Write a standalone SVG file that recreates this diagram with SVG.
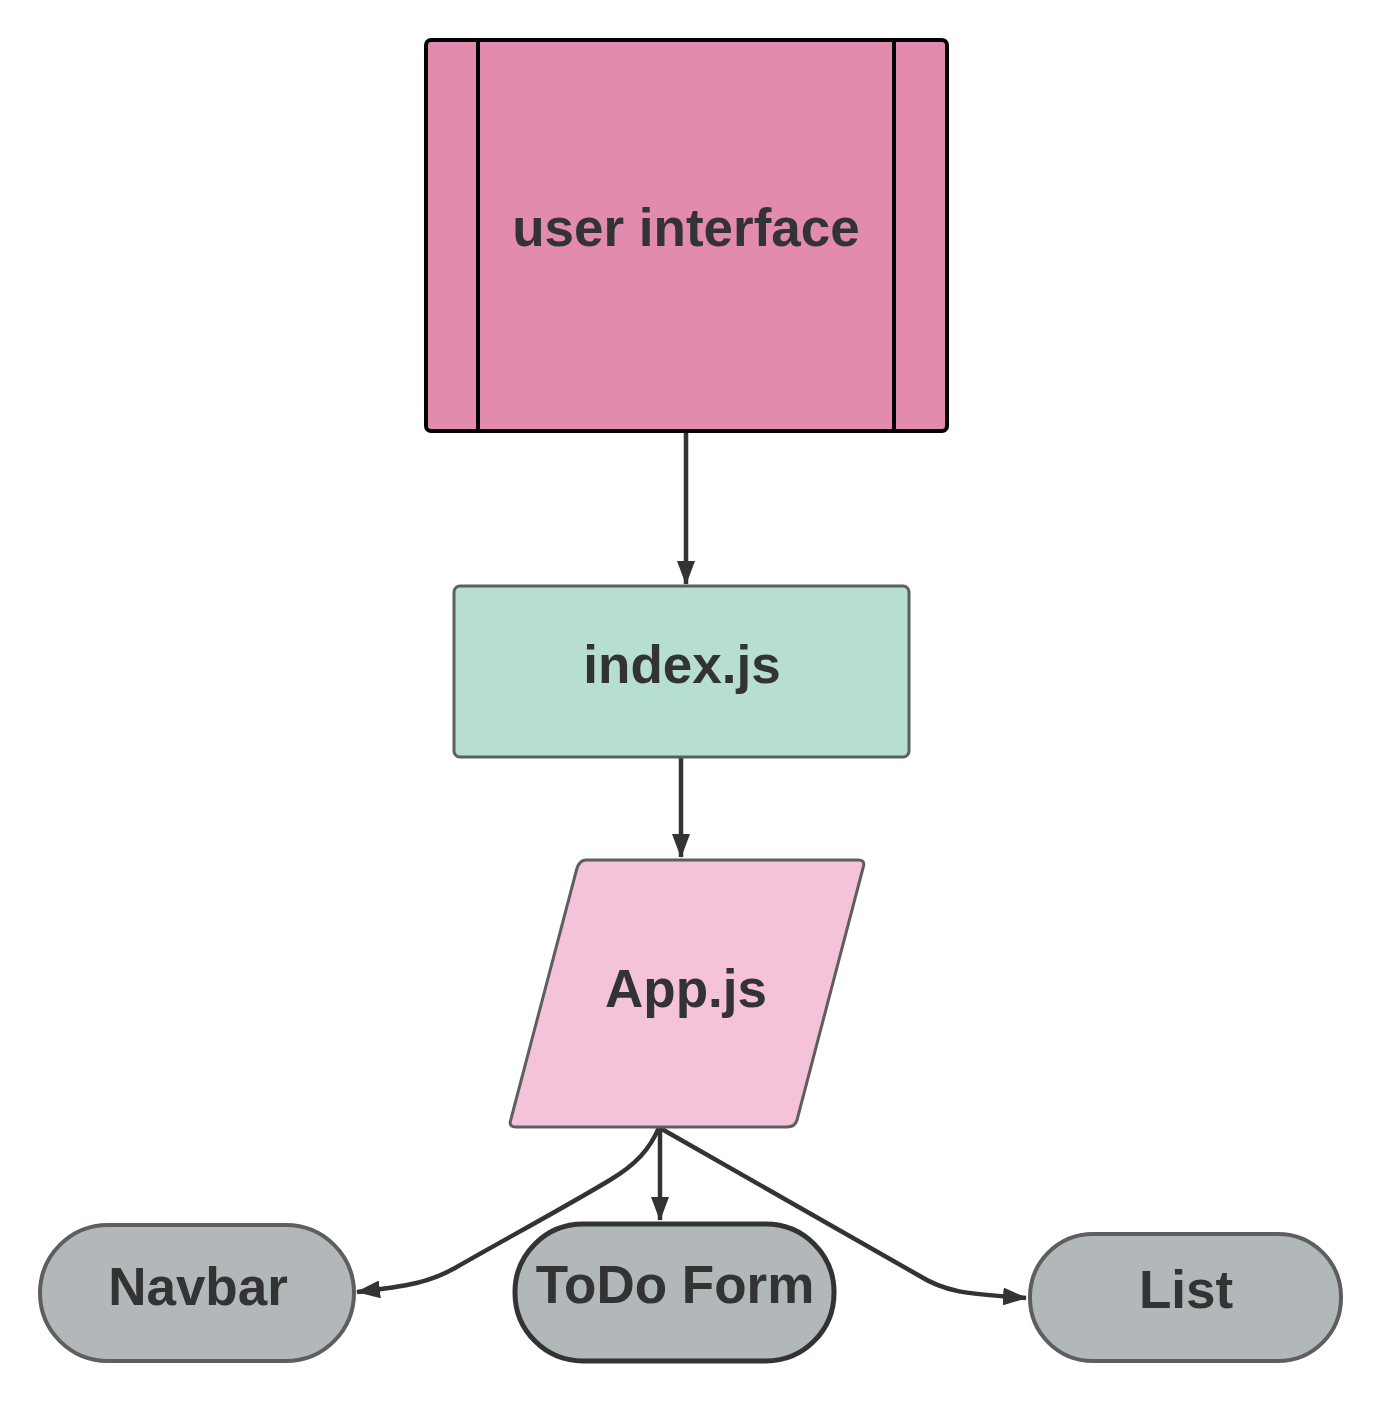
<svg xmlns="http://www.w3.org/2000/svg" width="1380" height="1401" viewBox="0 0 1380 1401">
<style>
text{font-family:"Liberation Sans",Arial,sans-serif;font-weight:bold;font-size:53px;fill:#333333;text-anchor:middle}
.edge{fill:none;stroke:#333333;stroke-width:4.5}
</style>
<defs>
<marker id="ah" viewBox="0 0 24 18" refX="23" refY="9" markerWidth="24" markerHeight="18" markerUnits="userSpaceOnUse" orient="auto">
<path d="M0,0 L24,9 L0,18 Z" fill="#333333"/>
</marker>
</defs>
<rect width="1380" height="1401" fill="#ffffff"/>
<g id="connectors">
<path class="edge" d="M686,433 V584" marker-end="url(#ah)"/>
<path class="edge" d="M681,758 V857" marker-end="url(#ah)"/>
<path class="edge" d="M660,1125 V1220" marker-end="url(#ah)"/>
<path class="edge" d="M660,1125 C650,1150 635,1165 610,1180 C560,1210 500,1242 455,1268 C430,1282 410,1286 357,1292" marker-end="url(#ah)"/>
<path class="edge" d="M660,1128 L918,1275 C945,1292 965,1294 1026,1298" marker-end="url(#ah)"/>
</g>
<g id="user-interface">
<rect x="426" y="40" width="521" height="391" rx="5" fill="#e38bae" stroke="#000000" stroke-width="4"/>
<line x1="478" y1="40" x2="478" y2="431" stroke="#000000" stroke-width="4"/>
<line x1="894" y1="40" x2="894" y2="431" stroke="#000000" stroke-width="4"/>
<text x="686" y="246">user interface</text>
</g>
<g id="index-js">
<rect x="454" y="586" width="455" height="171" rx="6" fill="#b7dfcf" stroke="#5e5e5e" stroke-width="3"/>
<text x="682" y="683">index.js</text>
</g>
<g id="app-js">
<path d="M586,860 H858 Q866,860 863,868 L797,1120 Q795,1127 787,1127 H516 Q508,1127 511,1119 L577,868 Q580,860 586,860 Z" fill="#f5c3d9" stroke="#5e5e5e" stroke-width="3"/>
<text x="686" y="1007">App.js</text>
</g>
<g id="navbar">
<rect x="40" y="1225" width="314" height="136" rx="68" fill="#b2b8b9" stroke="#5e5e5e" stroke-width="4"/>
<text x="198" y="1305">Navbar</text>
</g>
<g id="todo-form">
<rect x="515" y="1224" width="319" height="137" rx="68" fill="#b2b8b9" stroke="#333333" stroke-width="5"/>
<text x="675" y="1303">ToDo Form</text>
</g>
<g id="list">
<rect x="1030" y="1234" width="311" height="127" rx="63" fill="#b2b8b9" stroke="#5e5e5e" stroke-width="4"/>
<text x="1186" y="1308">List</text>
</g>
</svg>
